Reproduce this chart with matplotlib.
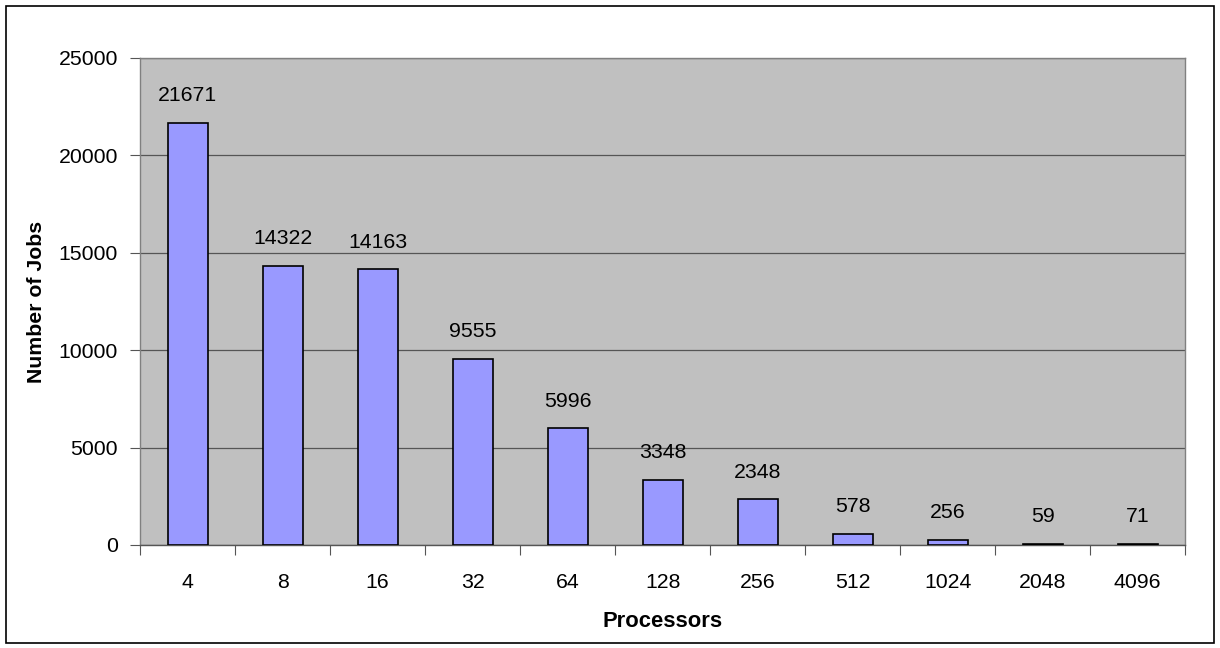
import matplotlib.pyplot as plt
import matplotlib.patches as patches
import numpy as np

plt.rcParams['font.family'] = ['Liberation Sans', 'DejaVu Sans']

# Job counts per processor request size
processors = ['4', '8', '16', '32', '64', '128', '256', '512', '1024', '2048', '4096']
jobs = [21671, 14322, 14163, 9555, 5996, 3348, 2348, 578, 256, 59, 71]

fs = 15.3

fig = plt.figure(figsize=(12.2, 6.48), dpi=100)
# outer frame around the whole chart
fig.patches.append(patches.Rectangle((0.005, 0.008), 0.990, 0.982, transform=fig.transFigure,
                                     fill=False, edgecolor='black', linewidth=1.2))

ax = fig.add_axes([0.1148, 0.159, 0.8566, 0.7515])
ax.set_facecolor('#C0C0C0')

x = np.arange(len(processors))
ax.bar(x, jobs, width=0.42, color='#9999FF', edgecolor='black', linewidth=1.2, zorder=3)

for xi, v in zip(x, jobs):
    ax.text(xi, v + 900, str(v), ha='center', va='bottom', fontsize=fs, zorder=4)

ax.set_xlim(-0.5, len(processors) - 0.5)
ax.set_ylim(0, 25000)
ax.set_yticks(np.arange(0, 25001, 5000))
ax.yaxis.grid(True, color='#555555', linewidth=0.9, zorder=1)

# ticks sit between the categories, labels at the centres
ax.set_xticks(np.arange(-0.5, len(processors), 1.0))
ax.set_xticklabels([])
ax.set_xticks(x, minor=True)
ax.set_xticklabels(processors, minor=True)
ax.tick_params(axis='x', which='major', direction='out', length=7, color='#555555')
ax.tick_params(axis='x', which='minor', length=0, pad=20, labelsize=fs)
ax.tick_params(axis='y', direction='out', length=7, color='#555555', labelsize=fs, pad=9)

for side in ['top', 'right', 'left', 'bottom']:
    ax.spines[side].set_color('#808080')
    ax.spines[side].set_linewidth(1.0)
ax.spines['bottom'].set_color('#555555')

ax.set_xlabel('Processors', fontsize=fs + 0.5, fontweight='bold', labelpad=14)
ax.set_ylabel('Number of Jobs', fontsize=fs, fontweight='bold', labelpad=9)

fig.savefig('out.png', dpi=100)
